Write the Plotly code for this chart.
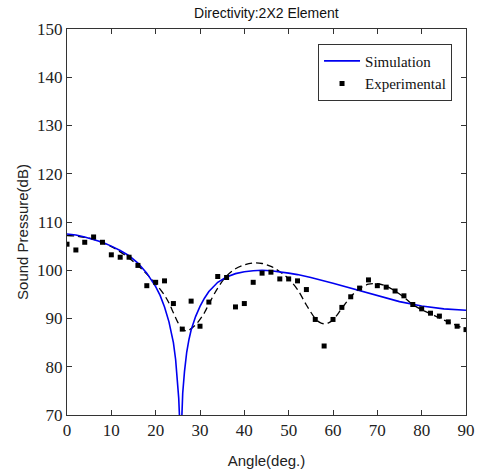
import plotly.graph_objects as go

# Experimental data (angle in deg, sound pressure in dB)
exp_angle = [0, 2, 4, 6, 8, 10, 12, 14, 16, 18, 20, 22, 24, 26, 28, 30, 32, 34, 36, 38,
             40, 42, 44, 46, 48, 50, 52, 54, 56, 58, 60, 62, 64, 66, 68, 70, 72, 74, 76,
             78, 80, 82, 84, 86, 88, 90]
exp_spl = [105.4, 104.2, 105.8, 106.9, 105.8, 103.2, 102.7, 102.7, 101.0, 96.8, 97.5, 97.8,
           93.1, 87.8, 93.6, 88.4, 93.4, 98.7, 98.5, 92.4, 93.1, 97.5, 99.4, 99.6, 98.2,
           98.2, 97.8, 96.0, 89.8, 84.3, 89.8, 92.3, 94.5, 96.3, 98.0, 96.8, 96.5, 95.7,
           94.7, 92.9, 92.0, 91.1, 90.5, 89.3, 88.4, 87.7]

# Simulation curve
sim_angle = [0, 2, 4, 6, 8, 10, 12, 14, 16, 18, 20, 21, 22, 23, 24, 24.5, 24.9, 25.2, 25.5,
             25.65, 25.8, 26.1, 26.5, 27, 27.5, 28, 29, 30, 31, 32, 34, 36, 38, 40, 42, 44,
             46, 48, 50, 52, 55, 60, 65, 70, 75, 80, 85, 90]
sim_spl = [107.5, 107.3, 106.9, 106.4, 105.8, 105.0, 104.1, 103.0, 101.5, 99.4, 96.6, 94.8,
           92.4, 89.3, 85.0, 81.5, 77.5, 73.5, 67.0, 50.0, 67.0, 74.5, 79.0, 83.0, 85.6,
           87.6, 90.4, 92.5, 94.2, 95.6, 97.5, 98.6, 99.3, 99.7, 99.9, 100.0, 99.9, 99.7,
           99.4, 99.1, 98.5, 97.3, 96.0, 94.7, 93.5, 92.6, 92.0, 91.7]

# Dashed fit through experimental data
fit_angle = [0, 2, 4, 6, 8, 10, 12, 14, 16, 18, 20, 22, 23, 24, 25, 26, 27, 28, 29, 30, 31,
             32, 34, 36, 38, 40, 42, 44, 46, 48, 50, 52, 54, 56, 57, 58, 59, 60, 62, 64, 66,
             68, 70, 72, 74, 76, 78, 80, 82, 84, 86, 88, 90]
fit_spl = [107.2, 107.1, 106.8, 106.4, 105.7, 104.9, 103.8, 102.5, 101.0, 99.2, 97.2, 94.8,
           93.2, 91.2, 89.2, 87.8, 87.4, 87.9, 88.7, 89.8, 91.2, 93.0, 96.3, 98.8, 100.3,
           101.1, 101.5, 101.4, 100.8, 99.7, 98.2, 96.0, 92.8, 90.0, 89.2, 88.9, 89.1, 89.7,
           92.1, 94.5, 96.2, 97.1, 97.2, 96.7, 95.7, 94.4, 92.9, 91.8, 91.0, 90.1, 89.3,
           88.5, 87.7]

x_ticks = [0, 10, 20, 30, 40, 50, 60, 70, 80, 90]
y_ticks = [70, 80, 90, 100, 110, 120, 130, 140, 150]

fig = go.Figure()
fig.add_trace(go.Scatter(x=fit_angle, y=fit_spl, mode="lines", line_shape="spline",
                         line=dict(color="black", width=1.3, dash="7px,4px"),
                         showlegend=False, hoverinfo="skip"))
fig.add_trace(go.Scatter(x=sim_angle, y=sim_spl, mode="lines", name="Simulation",
                         line=dict(color="#0000f0", width=1.6)))
fig.add_trace(go.Scatter(x=exp_angle, y=exp_spl, mode="markers", name="Experimental",
                         marker=dict(symbol="square", size=5, color="black")))

axis_common = dict(showgrid=False, zeroline=False, showline=True, linecolor="#333333",
                   linewidth=1, mirror="ticks", ticks="inside", ticklen=5,
                   tickcolor="#333333", automargin=False,
                   tickfont=dict(family="Liberation Serif, Times New Roman, serif",
                                 size=17, color="#222222"))

fig.update_xaxes(range=[0, 90], tickvals=x_ticks, **axis_common,
                 title=dict(text="Angle(deg.)", standoff=16,
                            font=dict(family="Liberation Sans, Arial, sans-serif", size=15,
                                      color="#222222")))
fig.update_yaxes(range=[70, 150], tickvals=y_ticks, **axis_common)

fig.add_annotation(text="Sound Pressure(dB)", xref="paper", yref="paper",
                   x=-0.113, y=0.474, xanchor="center", yanchor="middle",
                   textangle=-90, showarrow=False,
                   font=dict(family="Liberation Sans, Arial, sans-serif", size=15,
                             color="#222222"))

fig.update_layout(
    width=480, height=473,
    margin=dict(l=67, r=14, t=29, b=58),
    paper_bgcolor="white", plot_bgcolor="white",
    title=dict(text="Directivity:2X2 Element", x=0.555, xanchor="center", y=0.972,
               yanchor="middle",
               font=dict(family="Liberation Sans, Arial, sans-serif", size=14,
                         color="#111111")),
    legend=dict(x=0.965, y=0.962, xanchor="right", yanchor="top",
                bgcolor="white", bordercolor="#333333", borderwidth=1,
                font=dict(family="Liberation Serif, Times New Roman, serif", size=15,
                          color="#111111"),
                tracegroupgap=0, itemwidth=36),
)

fig.write_html("out.html")
